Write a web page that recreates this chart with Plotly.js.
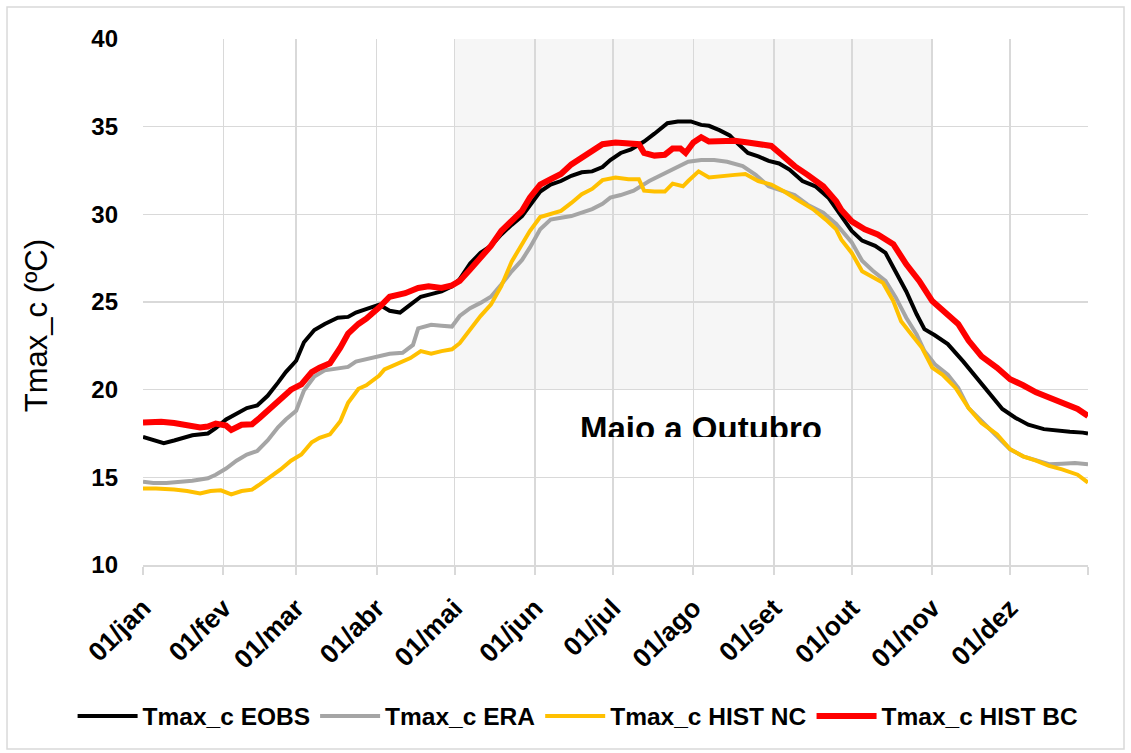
<!DOCTYPE html>
<html>
<head>
<meta charset="utf-8">
<script src="https://cdn.plot.ly/plotly-3.0.1.min.js"></script>
<style>
  html, body { margin: 0; padding: 0; background: #ffffff; }
  #chart { width: 1131px; height: 753px; }
</style>
</head>
<body>
<div id="chart"></div>
<script>
// ---- Tick positions (day of year) and labels ----
const tickDays = [0, 31, 59, 90, 120, 151, 181, 212, 243, 273, 304, 334, 364];
const tickLabels = ['01/jan', '01/fev', '01/mar', '01/abr', '01/mai', '01/jun', '01/jul', '01/ago', '01/set', '01/out', '01/nov', '01/dez', ''];

// ---- Series: Tmax_c EOBS ----
const eobsDays = [0, 8, 12, 16, 19, 25, 28, 32, 36, 40, 44, 48, 52, 55, 59, 62, 66, 70, 75, 79, 82, 88, 91, 95, 99, 103, 107, 111, 115, 119, 122, 126, 130, 134, 138, 142, 146, 149, 153, 157, 161, 165, 169, 173, 177, 180, 184, 188, 193, 197, 202, 206, 211, 215, 218, 222, 226, 229, 233, 237, 241, 245, 249, 254, 259, 264, 269, 273, 277, 282, 286, 290, 294, 298, 301, 305, 310, 316, 321, 326, 331, 336, 341, 347, 352, 357, 362, 364];
const eobsVals = [17.3, 16.95, 17.1, 17.3, 17.4, 17.5, 17.8, 18.3, 18.65, 18.95, 19.1, 19.65, 20.4, 21.0, 21.65, 22.7, 23.4, 23.75, 24.1, 24.15, 24.4, 24.7, 24.85, 24.5, 24.4, 24.85, 25.3, 25.45, 25.6, 25.9, 26.3, 27.2, 27.8, 28.2, 28.85, 29.4, 29.9, 30.5, 31.3, 31.7, 31.9, 32.2, 32.4, 32.45, 32.7, 33.1, 33.5, 33.7, 34.15, 34.6, 35.2, 35.3, 35.3, 35.1, 35.05, 34.8, 34.5, 34.05, 33.5, 33.3, 33.05, 32.9, 32.55, 31.9, 31.6, 30.95, 29.85, 29.05, 28.5, 28.2, 27.8, 26.75, 25.6, 24.3, 23.45, 23.1, 22.6, 21.6, 20.7, 19.75, 18.9, 18.4, 18.0, 17.75, 17.65, 17.6, 17.55, 17.5];

// ---- Series: Tmax_c ERA ----
const eraDays = [0, 4, 9, 14, 19, 25, 28, 32, 36, 40, 44, 48, 52, 55, 59, 62, 66, 70, 75, 79, 82, 88, 92, 95, 100, 104, 106, 111, 115, 119, 122, 126, 130, 134, 138, 142, 146, 149, 153, 157, 161, 165, 169, 173, 177, 180, 184, 189, 195, 200, 205, 210, 215, 220, 225, 231, 236, 241, 246, 251, 256, 262, 267, 269, 273, 277, 281, 286, 290, 294, 298, 301, 305, 310, 314, 318, 323, 328, 334, 339, 344, 349, 354, 359, 364];
const eraVals = [14.75, 14.68, 14.68, 14.72, 14.8, 14.95, 15.15, 15.5, 15.95, 16.3, 16.5, 17.1, 17.85, 18.3, 18.8, 19.95, 20.75, 21.1, 21.2, 21.3, 21.6, 21.8, 21.9, 22.05, 22.1, 22.55, 23.5, 23.7, 23.65, 23.6, 24.2, 24.65, 24.95, 25.3, 26.0, 26.75, 27.4, 28.1, 29.15, 29.7, 29.8, 29.9, 30.1, 30.3, 30.6, 30.95, 31.1, 31.35, 31.9, 32.25, 32.65, 33.0, 33.1, 33.1, 33.0, 32.75, 32.25, 31.6, 31.35, 31.1, 30.55, 30.1, 29.45, 29.1, 28.4, 27.35, 26.8, 26.2, 25.25, 24.1, 23.15, 22.2, 21.45, 20.85, 20.1, 18.95, 18.2, 17.45, 16.6, 16.2, 15.95, 15.75, 15.78, 15.82, 15.75];

// ---- Series: Tmax_c HIST NC ----
const histNcDays = [0, 5, 12, 17, 22, 26, 30, 34, 38, 42, 45, 49, 53, 57, 61, 65, 68, 72, 76, 79, 83, 86, 91, 93, 98, 103, 107, 111, 115, 119, 122, 126, 130, 134, 138, 142, 146, 149, 153, 157, 161, 165, 169, 173, 177, 182, 187, 191, 193, 197, 201, 204, 208, 210, 214, 218, 223, 228, 232, 237, 242, 247, 253, 258, 263, 267, 269, 273, 277, 281, 285, 289, 292, 296, 300, 304, 308, 313, 318, 323, 329, 334, 339, 344, 349, 354, 360, 364];
const histNcVals = [14.37, 14.37, 14.3, 14.22, 14.08, 14.22, 14.26, 14.03, 14.22, 14.3, 14.6, 15.0, 15.45, 15.95, 16.3, 17.0, 17.25, 17.45, 18.2, 19.25, 20.05, 20.25, 20.8, 21.15, 21.5, 21.8, 22.2, 22.05, 22.2, 22.3, 22.65, 23.4, 24.2, 24.85, 25.9, 27.3, 28.3, 29.05, 29.85, 30.0, 30.2, 30.65, 31.15, 31.45, 31.95, 32.1, 32.0, 32.0, 31.35, 31.3, 31.3, 31.75, 31.6, 31.9, 32.45, 32.1, 32.15, 32.25, 32.3, 31.9, 31.7, 31.3, 30.75, 30.3, 29.7, 29.15, 28.55, 27.8, 26.75, 26.4, 26.1, 25.05, 23.9, 23.15, 22.4, 21.25, 20.85, 20.1, 18.95, 18.1, 17.45, 16.6, 16.2, 15.95, 15.65, 15.45, 15.15, 14.7];

// ---- Series: Tmax_c HIST BC ----
const histBcDays = [0, 7, 12, 17, 22, 25, 28, 32, 34, 38, 42, 45, 49, 53, 57, 61, 65, 68, 72, 76, 79, 83, 86, 91, 95, 101, 106, 110, 115, 119, 122, 126, 130, 134, 138, 142, 146, 149, 153, 157, 161, 165, 169, 173, 177, 182, 187, 191, 193, 197, 201, 204, 207, 209, 212, 215, 218, 223, 228, 233, 238, 242, 246, 251, 256, 262, 267, 269, 273, 278, 283, 289, 294, 299, 304, 309, 314, 318, 323, 329, 334, 339, 344, 349, 354, 360, 364];
const histBcVals = [18.13, 18.17, 18.1, 18.0, 17.85, 17.9, 18.07, 17.95, 17.7, 18.0, 18.03, 18.4, 18.9, 19.45, 20.0, 20.3, 21.0, 21.25, 21.5, 22.4, 23.2, 23.75, 24.05, 24.7, 25.3, 25.5, 25.8, 25.9, 25.8, 25.95, 26.2, 26.85, 27.5, 28.2, 29.05, 29.6, 30.2, 30.95, 31.7, 32.0, 32.3, 32.85, 33.25, 33.6, 34.0, 34.1, 34.05, 34.0, 33.5, 33.35, 33.4, 33.75, 33.75, 33.5, 34.1, 34.4, 34.15, 34.2, 34.2, 34.1, 34.0, 33.9, 33.4, 32.75, 32.25, 31.6, 30.75, 30.25, 29.6, 29.15, 28.85, 28.3, 27.15, 26.2, 25.05, 24.4, 23.75, 22.8, 21.9, 21.25, 20.6, 20.25, 19.85, 19.55, 19.25, 18.9, 18.5];

// ---- Highlighted period ----
const periodLabel = 'Maio a Outubro';
const periodStartDay = 120;
const periodEndDay = 304;
const periodLow = 20;
const periodHigh = 40;

const FONT = 'Liberation Sans, Arial, sans-serif';

const traces = [
  { x: eobsDays, y: eobsVals, name: 'Tmax_c EOBS', mode: 'lines', line: { color: '#000000', width: 4 } },
  { x: eraDays, y: eraVals, name: 'Tmax_c ERA', mode: 'lines', line: { color: '#a5a5a5', width: 4 } },
  { x: histNcDays, y: histNcVals, name: 'Tmax_c HIST NC', mode: 'lines', line: { color: '#ffc000', width: 4 } },
  { x: histBcDays, y: histBcVals, name: 'Tmax_c HIST BC', mode: 'lines', line: { color: '#ff0000', width: 6 } }
];

const layout = {
  width: 1131,
  height: 753,
  margin: { l: 143, r: 43, t: 39, b: 188 },
  paper_bgcolor: '#ffffff',
  plot_bgcolor: '#ffffff',
  font: { family: FONT, color: '#000000' },
  showlegend: true,
  xaxis: {
    range: [0, 364],
    tickvals: tickDays,
    ticktext: tickLabels,
    tickangle: -45,
    tickfont: { family: FONT, size: 26.5, weight: 'bold', color: '#000000' },
    showgrid: true,
    gridcolor: '#d9d9d9',
    gridwidth: 1.5,
    showline: true,
    linecolor: '#d9d9d9',
    linewidth: 2,
    ticks: 'outside',
    ticklen: 8,
    tickwidth: 2,
    tickcolor: '#d9d9d9',
    ticklabelstandoff: 7,
    zeroline: false,
    fixedrange: true
  },
  yaxis: {
    range: [10, 40],
    tickvals: [10, 15, 20, 25, 30, 35, 40],
    tickfont: { family: FONT, size: 24, weight: 'bold', color: '#000000' },
    showgrid: true,
    gridcolor: '#d9d9d9',
    gridwidth: 1.5,
    showline: false,
    ticks: '',
    ticklabelstandoff: 24,
    zeroline: false,
    fixedrange: true
  },
  legend: {
    orientation: 'h',
    x: -0.0745,
    xanchor: 'left',
    y: -0.287,
    yanchor: 'middle',
    itemwidth: 60,
    font: { family: FONT, size: 24.5, weight: 'bold', color: '#000000' },
    bgcolor: 'rgba(0,0,0,0)'
  },
  shapes: [
    {
      type: 'rect', layer: 'below', xref: 'x', yref: 'y',
      x0: periodStartDay, x1: periodEndDay, y0: periodLow, y1: periodHigh,
      fillcolor: 'rgba(0,0,0,0.035)', line: { width: 0 }
    },
    {
      type: 'rect', layer: 'above', xref: 'paper', yref: 'paper',
      x0: -0.1439, x1: 1.0381, y0: -0.3498, y1: 1.0608,
      fillcolor: 'rgba(0,0,0,0)', line: { color: '#d9d9d9', width: 1.5 }
    }
  ],
  annotations: [
    {
      text: 'Tmax_c (ºC)', xref: 'paper', yref: 'paper',
      x: -0.112, y: 0.4544, xanchor: 'center', yanchor: 'middle',
      textangle: -90, showarrow: false,
      font: { family: FONT, size: 31, color: '#000000' }
    },
    {
      text: '<b>' + periodLabel + '</b>', xref: 'x', yref: 'paper',
      x: (periodStartDay + periodEndDay) / 2 + 3, y: 0.2985,
      xanchor: 'center', yanchor: 'top',
      height: 27, valign: 'top',
      showarrow: false,
      font: { family: FONT, size: 33, color: '#000000' }
    }
  ]
};

Plotly.newPlot('chart', traces, layout, { displayModeBar: false, staticPlot: true });
</script>
</body>
</html>
